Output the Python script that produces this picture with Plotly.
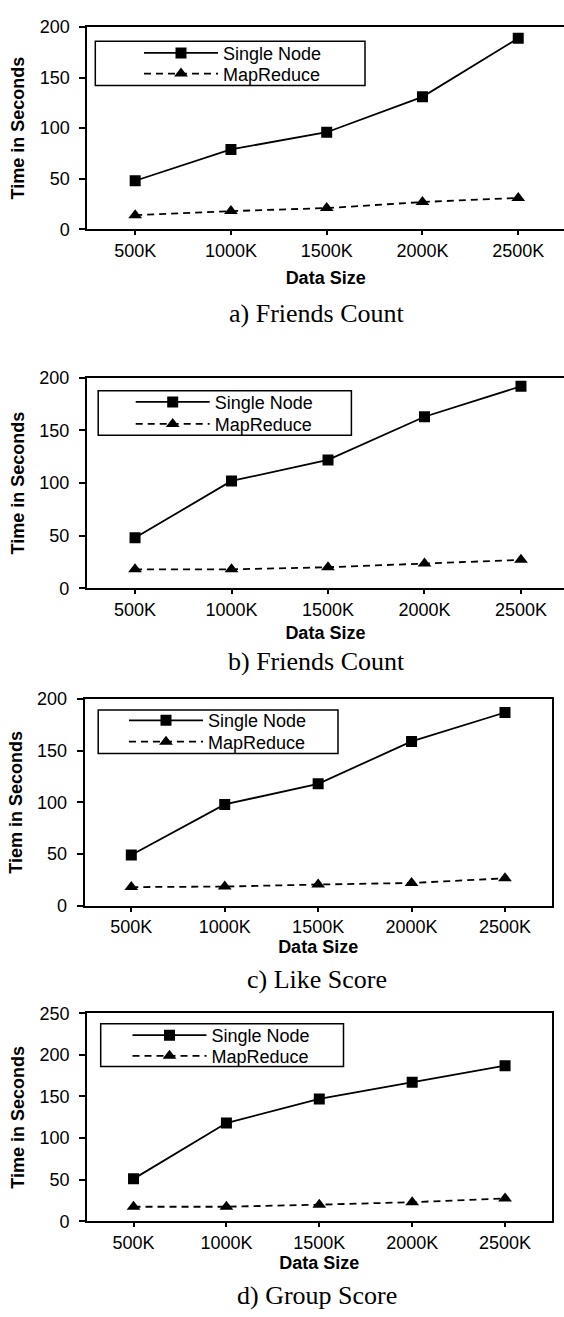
import plotly.graph_objects as go

W, H = 564, 1317

# ---------------- data ----------------
categories = ["500K", "1000K", "1500K", "2000K", "2500K"]
series_names = ["Single Node", "MapReduce"]

a_single = [48, 79, 96, 131, 189]
a_mapreduce = [14, 18, 21, 27, 31]

b_single = [48, 102, 122, 163, 192]
b_mapreduce = [18, 18, 20, 23.5, 27]

c_single = [49, 98, 118, 159, 187]
c_mapreduce = [18, 18.5, 20.5, 22, 26.5]

d_single = [51, 118, 147, 167, 187]
d_mapreduce = [17.5, 17.5, 20, 23, 27.5]

y_titles = ["Time in Seconds", "Time in Seconds", "Tiem in Seconds", "Time in Seconds"]
captions = ["a) Friends Count", "b) Friends Count", "c) Like Score", "d) Group Score"]
y_max = [200, 200, 200, 250]
x_title = "Data Size"

singles = [a_single, b_single, c_single, d_single]
mapreds = [a_mapreduce, b_mapreduce, c_mapreduce, d_mapreduce]

# ---------------- layout geometry (pixels) ----------------
panels = [
    dict(left=87.3, right=564, top=17.3, bottom=222.7, xr=[-0.5, 4.478], box_right=False,
         cap_y=308, leg=(95.3, 365, 31.7, 76.7), leg_text_x=223, rows=(43.3, 64.3), xstand=11),
    dict(left=86.8, right=564, top=373.5, bottom=587.2, xr=[-0.5, 4.446], box_right=False,
         cap_y=662, leg=(98.2, 351.4, 386.7, 431.7), leg_text_x=214.7, rows=(397.7, 420), xstand=8),
    dict(left=84.6, right=551.7, top=699.7, bottom=909.5, xr=[-0.5, 4.5], box_right=True,
         cap_y=984, leg=(98.2, 338, 710.7, 755), leg_text_x=208, rows=(721, 742.7), xstand=4),
    dict(left=87.1, right=551.5, top=1018.7, bottom=1230, xr=[-0.5, 4.5], box_right=True,
         cap_y=1305, leg=(100.7, 343.5, 1029.3, 1072.7), leg_text_x=211.5, rows=(1040.7, 1061.7), xstand=3),
]

FONT = "Liberation Sans, Arial, sans-serif"
SERIF = "Liberation Serif, Times New Roman, serif"
FS = 18
ITEMW = 74


def px(x):
    return x / W


def py(y):
    return 1 - y / H


fig = go.Figure()
layout = dict(
    width=W, height=H, autosize=False,
    margin=dict(l=0, r=0, t=0, b=0),
    paper_bgcolor="white", plot_bgcolor="white",
    font=dict(family=FONT, size=FS, color="black"),
    showlegend=True,
    annotations=[], shapes=[],
)

for i, p in enumerate(panels):
    n = "" if i == 0 else str(i + 1)
    xa, ya = "x" + n, "y" + n
    lg1 = "legend" if i == 0 else "legend" + str(2 * i + 1)
    lg2 = "legend" + str(2 * i + 2)
    fig.add_trace(go.Scatter(
        x=categories, y=singles[i], name=series_names[0], mode="lines+markers",
        line=dict(color="black", width=1.8),
        marker=dict(symbol="square", size=11, color="black"),
        xaxis=xa, yaxis=ya, legend=lg1, showlegend=True,
    ))
    fig.add_trace(go.Scatter(
        x=categories, y=mapreds[i], name=series_names[1], mode="lines+markers",
        line=dict(color="black", width=1.8, dash="7px,5px"),
        marker=dict(symbol="triangle-up", size=12, color="black"),
        xaxis=xa, yaxis=ya, legend=lg2, showlegend=True,
    ))
    layout["xaxis" + n] = dict(
        domain=[px(p["left"]), px(p["right"])], anchor=ya,
        type="category", range=p["xr"],
        showline=True, linecolor="black", linewidth=2, mirror=True,
        ticks="outside", ticklen=4, tickwidth=1.5, tickcolor="black",
        showgrid=False, zeroline=False,
        tickfont=dict(family=FONT, size=FS, color="black"),
        title=dict(text="<b>" + x_title + "</b>", font=dict(family=FONT, size=FS, color="black"),
                   standoff=p["xstand"]),
    )
    layout["yaxis" + n] = dict(
        domain=[py(p["bottom"]), py(p["top"])], anchor=xa,
        range=[0, y_max[i]], dtick=50, tick0=0,
        showline=True, linecolor="black", linewidth=2, mirror=p["box_right"],
        ticks="outside", ticklen=6, tickwidth=1.5, tickcolor="black",
        showgrid=False, zeroline=False,
        tickfont=dict(family=FONT, size=FS, color="black"),
        ticklabelstandoff=6,
        title=dict(text="<b>" + y_titles[i] + "</b>", font=dict(family=FONT, size=FS, color="black"),
                   standoff=10),
    )
    lx0, lx1, ly0, ly1 = p["leg"]
    layout["shapes"].append(dict(
        type="rect", xref="paper", yref="paper",
        x0=px(lx0), x1=px(lx1), y0=py(ly1), y1=py(ly0),
        line=dict(color="black", width=1.5), fillcolor="white", layer="below",
    ))
    for lg, row in ((lg1, p["rows"][0]), (lg2, p["rows"][1])):
        layout[lg] = dict(
            x=px(p["leg_text_x"] - ITEMW - 10), y=py(row - 18.2),
            xanchor="left", yanchor="top", xref="paper", yref="paper",
            bgcolor="rgba(0,0,0,0)", borderwidth=0, itemwidth=ITEMW,
            font=dict(family=FONT, size=FS, color="black"),
            orientation="v", visible=True,
        )
    layout["annotations"].append(dict(
        text=captions[i], xref="paper", yref="paper",
        x=px(316.7), y=py(p["cap_y"]), xanchor="center", yanchor="middle",
        showarrow=False, font=dict(family=SERIF, size=26, color="black"),
    ))

fig.update_layout(**layout)
fig.write_html(
    "out.html",
    config={"displayModeBar": False},
    post_script="document.body.style.margin='0px';document.body.style.overflow='hidden';",
)
